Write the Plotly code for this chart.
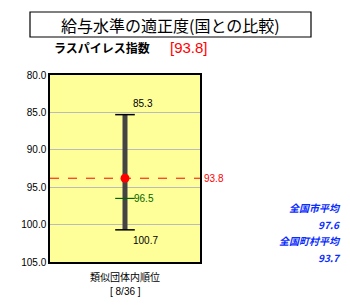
import plotly.graph_objects as go

# ---- data ----
index_value = 93.8
range_low = 85.3
range_high = 100.7
group_mean = 96.5
city_avg = 97.6
town_avg = 93.7
rank_label = "[ 8/36 ]"
y_ticks = [80, 85, 90, 95, 100, 105]
x_cat = [0]

JP = "Noto Sans CJK JP, MS PGothic, sans-serif"
NUM = "Liberation Sans, Arial, sans-serif"

fig = go.Figure()

# vertical bar (range)
fig.add_trace(go.Scatter(x=x_cat * 2, y=[range_low, range_high], mode="lines",
                         line=dict(color="#444444", width=5), hoverinfo="skip"))
# caps
fig.add_trace(go.Scatter(x=x_cat * 2, y=[range_low, range_high], mode="markers",
                         marker=dict(symbol="line-ew", size=14,
                                     line=dict(color="black", width=1.5)),
                         hoverinfo="skip"))
# group mean tick
fig.add_trace(go.Scatter(x=x_cat, y=[group_mean], mode="markers",
                         marker=dict(symbol="line-ew", size=14,
                                     line=dict(color="#006600", width=1.2)),
                         hoverinfo="skip"))
# own value
fig.add_trace(go.Scatter(x=x_cat, y=[index_value], mode="markers",
                         marker=dict(symbol="circle", size=9, color="red"),
                         hoverinfo="skip"))

# dashed line at own value
fig.add_shape(type="line", xref="paper", x0=0, x1=1, yref="y",
              y0=index_value, y1=index_value,
              line=dict(color="red", width=1, dash="dash"))

ann = []
ann.append(dict(x=0, y=range_low, xref="x", yref="y", text=f"{range_low}",
                showarrow=False, xanchor="left", yanchor="bottom",
                xshift=6, yshift=4, font=dict(family=NUM, size=10, color="black")))
ann.append(dict(x=0, y=range_high, xref="x", yref="y", text=f"{range_high}",
                showarrow=False, xanchor="left", yanchor="top",
                xshift=6, yshift=-3, font=dict(family=NUM, size=10, color="black")))
ann.append(dict(x=0, y=group_mean, xref="x", yref="y", text=f"{group_mean}",
                showarrow=False, xanchor="left", yanchor="middle",
                xshift=7, font=dict(family=NUM, size=10, color="#006600")))
ann.append(dict(x=1, y=index_value, xref="paper", yref="y", text=f"{index_value}",
                showarrow=False, xanchor="left", yanchor="middle",
                xshift=2, font=dict(family=NUM, size=10, color="red")))

def py(p):
    return (262 - p) / 187.0

def px(p):
    return (p - 50) / 150.0

ann.append(dict(x=px(170), y=py(25), xref="paper", yref="paper",
                text="給与水準の適正度(国との比較)", showarrow=False,
                xanchor="center", yanchor="middle",
                font=dict(family=JP, size=16, color="black")))
ann.append(dict(x=px(52), y=py(47), xref="paper", yref="paper",
                text="<b>ラスパイレス指数</b>", showarrow=False,
                xanchor="left", yanchor="middle",
                font=dict(family=JP, size=12, color="black")))
ann.append(dict(x=px(168), y=py(47), xref="paper", yref="paper",
                text=f"[{index_value}]", showarrow=False,
                xanchor="left", yanchor="middle",
                font=dict(family=NUM, size=15, color="red")))
ann.append(dict(x=px(125), y=py(276), xref="paper", yref="paper",
                text="類似団体内順位", showarrow=False,
                xanchor="center", yanchor="middle",
                font=dict(family=JP, size=10, color="black")))
ann.append(dict(x=px(125), y=py(291), xref="paper", yref="paper",
                text=rank_label, showarrow=False,
                xanchor="center", yanchor="middle",
                font=dict(family=NUM, size=10, color="black")))

blue = "#0a2dff"
for text, ypix in [("全国市平均", 207), (f"{city_avg}", 224),
                   ("全国町村平均", 240), (f"{town_avg}", 257)]:
    ann.append(dict(x=px(343), y=py(ypix), xref="paper", yref="paper",
                    text=f"<b><i>{text}</i></b>", showarrow=False,
                    xanchor="right", yanchor="middle",
                    font=dict(family=JP, size=10, color=blue)))

# title box
fig.add_shape(type="rect", xref="paper", yref="paper",
              x0=px(30), x1=px(311), y0=py(37), y1=py(12),
              line=dict(color="black", width=1.2), fillcolor="rgba(0,0,0,0)")

fig.update_layout(
    width=350, height=307,
    margin=dict(l=50, r=150, t=75, b=45),
    paper_bgcolor="white",
    plot_bgcolor="#ffff99",
    showlegend=False,
    annotations=ann,
    xaxis=dict(range=[-1, 1], showticklabels=False, showgrid=False,
               zeroline=False, showline=True, linecolor="black", linewidth=1.5,
               mirror=True, fixedrange=True),
    yaxis=dict(range=[105, 80], tickvals=y_ticks,
               ticktext=[f"{v:.1f}" for v in y_ticks],
               showgrid=True, gridcolor="#bbbbbb", gridwidth=1,
               zeroline=False, showline=True, linecolor="black", linewidth=1.5,
               mirror=True, ticks="", ticklen=0,
               tickfont=dict(family=NUM, size=10, color="black")),
)

fig.write_html("out.html")
